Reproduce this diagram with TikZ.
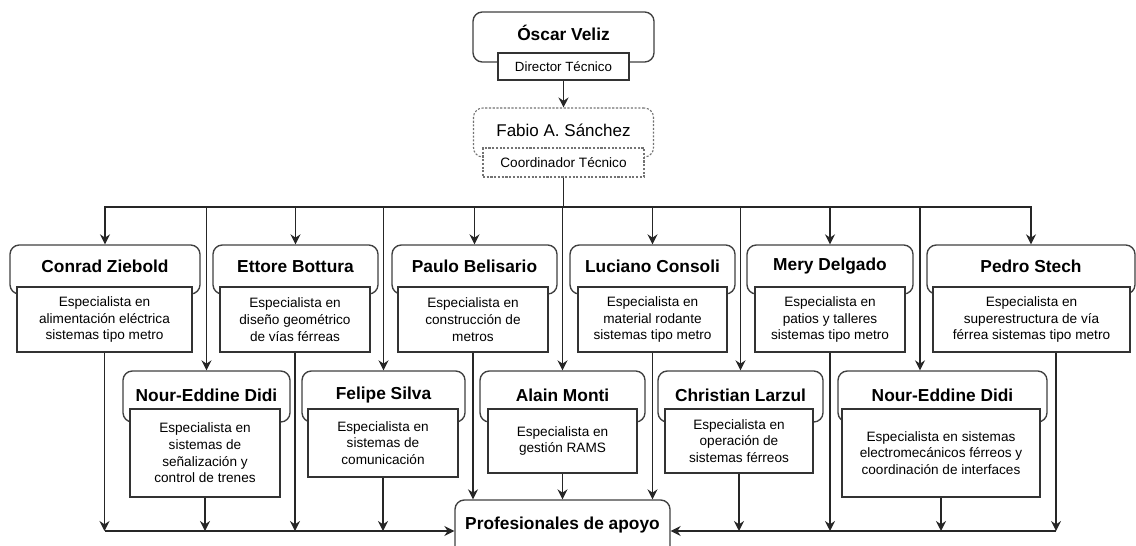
\documentclass[tikz,border=0pt]{standalone}
\usepackage{fontspec}
\setmainfont{Liberation Sans}
\usetikzlibrary{arrows.meta,shadows}

% one staff unit: rounded name box with a role box laid over its lower edge
% #1 id, #2 x left, #3 x right, #4 role x left, #5 role x right, #6 role bottom, #7 name, #8 role
\newcommand\staffunit[8]{%
  \node[namebox, minimum width={(#3-#2)*0.75pt}, minimum height={(\boxBot-\rowTop)*0.75pt}]
    (#1) at ({(#2+#3)/2},{(\rowTop+\boxBot)/2}) {};
  \node[nametext] (#1-name) at ({(#2+#3)/2},\nameY) {#7};
  \node[rolebox, minimum width={(#5-#4)*0.75pt}, minimum height={(#6-\labTop)*0.75pt}]
    (#1-role) at ({(#4+#5)/2},{(\labTop+#6)/2}) {#8};
}

\begin{document}
\begin{tikzpicture}[x=0.75pt,y=-0.75pt,
  namebox/.style={draw=black!75, line width=1pt, rounded corners=7pt, inner sep=0pt, fill=white},
  nametext/.style={inner sep=0pt, font=\fontsize{13}{15}\selectfont\bfseries},
  rolebox/.style={draw=black!80, line width=1.2pt, fill=white, inner sep=0pt, align=center,
    font=\fontsize{10.2}{12.5}\selectfont,
    drop shadow={shadow xshift=0.8pt, shadow yshift=-0.8pt, fill=black!40, opacity=0.6}},
  dashbox/.style={draw=black!55, line width=0.8pt, dash pattern=on 1.6pt off 1.2pt, fill=white, inner sep=0pt},
  conn/.style={draw=black!85, line width=1pt},
  arr/.style={conn, -{Stealth[length=7.5pt,width=7.5pt,inset=2.5pt]}},
]
\useasboundingbox (0,0) rectangle (1136,546);
\clip (0,0) rectangle (1136,546);

% ---- director and coordinator
\node[namebox, minimum width={181*0.75pt}, minimum height={50*0.75pt}] (oscar) at (563.5,37) {};
\node[nametext] (oscar-name) at (563.5,33) {Óscar Veliz};
\node[rolebox, minimum width={131*0.75pt}, minimum height={27*0.75pt}, font=\fontsize{10}{12}\selectfont]
  (oscar-role) at (563.5,66.5) {Director Técnico};

\node[dashbox, rounded corners=7pt, minimum width={180*0.75pt}, minimum height={49*0.75pt}] (fabio) at (563.5,132.5) {};
\node[inner sep=0pt, font=\fontsize{12.75}{15}\selectfont] (fabio-name) at (563.5,130) {Fabio A. Sánchez};
\node[dashbox, minimum width={161*0.75pt}, minimum height={29*0.75pt}, font=\fontsize{10.2}{12}\selectfont]
  (fabio-role) at (563.5,162.5) {Coordinador Técnico};

% ---- first row of specialists
\def\rowTop{245}\def\boxBot{294}\def\labTop{287}\def\nameY{266.5}
\staffunit{conrad}{10}{200}{17}{192}{352}{Conrad Ziebold}{Especialista en\\alimentación eléctrica\\sistemas tipo metro}
\staffunit{ettore}{213}{378}{220}{370}{352}{Ettore Bottura}{Especialista en\\diseño geométrico\\de vías férreas}
\staffunit{paulo}{392}{557}{398}{548}{352}{Paulo Belisario}{Especialista en\\construcción de\\metros}
\staffunit{luciano}{570}{735}{578}{727}{352}{Luciano Consoli}{Especialista en\\material rodante\\sistemas tipo metro}
\staffunit{mery}{747}{913}{755}{905}{352}{Mery Delgado}{Especialista en\\patios y talleres\\sistemas tipo metro}
\staffunit{pedro}{927}{1135}{933}{1130}{352}{Pedro Stech}{Especialista en\\superestructura de vía\\férrea sistemas tipo metro}

% ---- second row of specialists
\def\rowTop{371}\def\boxBot{422}\def\labTop{409}\def\nameY{395.5}
\staffunit{nour}{123}{290}{130}{280}{497}{Nour-Eddine Didi}{Especialista en\\sistemas de\\señalización y\\control de trenes}
\staffunit{felipe}{302}{465}{308}{458}{477}{Felipe Silva}{Especialista en\\sistemas de\\comunicación}
\staffunit{alain}{480}{645}{488}{637}{473}{Alain Monti}{Especialista en\\gestión RAMS}
\staffunit{christian}{658}{823}{665}{813}{473}{Christian Larzul}{Especialista en\\operación de\\sistemas férreos}
\staffunit{noure}{838}{1047}{842}{1040}{497}{Nour-Eddine Didi}{Especialista en sistemas\\electromecánicos férreos y\\coordinación de interfaces}

% ---- support staff
\node[namebox, minimum width={215*0.75pt}, minimum height={56*0.75pt}] (prof) at (562.5,528) {};
\node[nametext] (prof-name) at (562.5,525) {Profesionales de apoyo};

% ---- connectors from the top
\draw[arr] (oscar-role.south) -- (oscar-role.south |- fabio.north);
\coordinate (bus) at (564,207);
\draw[conn] (fabio-role.south) -- (fabio-role.south |- bus);
\foreach \n in {conrad,ettore,paulo,luciano,mery,pedro,nour,felipe,alain,christian}
  \draw[arr] (bus) -| (\n.north);
\draw[arr] (bus) -| ([xshift=-16.9pt]noure.north);

% ---- connectors to the support staff
\coordinate (bl) at (105,531);
\coordinate (br) at (1056,531);
\foreach \n in {conrad,ettore,nour,felipe,christian,mery,noure}
  \draw[arr] (\n-role.south) -- (\n-role.south |- bl);
\draw[arr] ([xshift=18.4pt]pedro-role.south) -- ([xshift=18.4pt]pedro-role.south |- br);
\foreach \n in {paulo,alain,luciano}
  \draw[arr] (\n-role.south) -- (\n-role.south |- prof.north);
\draw[arr] (bl) -- (bl -| prof.west);
\draw[arr] (br) -- (br -| prof.east);
\end{tikzpicture}
\end{document}
